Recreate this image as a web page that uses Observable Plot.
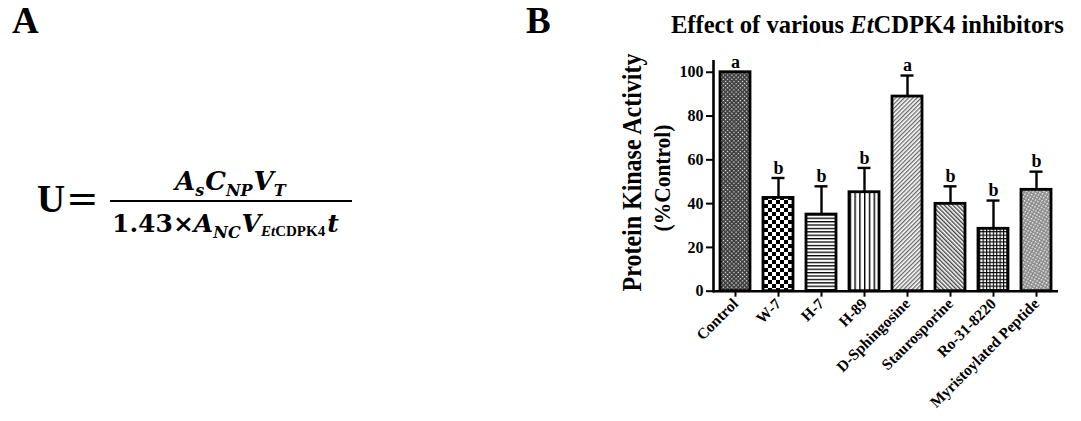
<!DOCTYPE html>
<html>
<head>
<meta charset="utf-8">
<script src="https://cdn.jsdelivr.net/npm/d3@7"></script>
<script src="https://cdn.jsdelivr.net/npm/@observablehq/plot@0.6"></script>
<style>
  html, body { margin: 0; padding: 0; background: #fff; }
  #wrap { position: relative; width: 1081px; height: 421px; overflow: hidden; }
  #wrap > svg { position: absolute; left: 0; top: 0; }
</style>
</head>
<body>
<div id="wrap"></div>
<script>
// ---- data ----
const categories = ["Control", "W-7", "H-7", "H-89", "D-Sphingosine", "Staurosporine", "Ro-31-8220", "Myristoylated Peptide"];
const activity = [100, 42.6, 35.0, 45.2, 88.9, 39.9, 28.5, 46.3];
const errorTop = [100, 51.7, 47.9, 56.3, 98.5, 47.9, 41.4, 54.6];
const letters = ["a", "b", "b", "b", "a", "b", "b", "b"];
const patterns = ["p0", "p1", "p2", "p3", "p4", "p5", "p6", "p7"];
const yTicks = [0, 20, 40, 60, 80, 100];

const data = categories.map((name, i) => ({
  name, value: activity[i], err: errorTop[i], letter: letters[i], pattern: `url(#${patterns[i]})`
}));

const FONT = '"Liberation Serif", "Times New Roman", serif';

const chart = Plot.plot({
  width: 1081,
  height: 421,
  marginLeft: 713,
  marginRight: 23,
  marginTop: 60.8,
  marginBottom: 130.3,
  style: { fontFamily: FONT, fontWeight: "bold", fontSize: "15px", background: "transparent", color: "black" },
  x: { domain: categories, paddingInner: 0.3, paddingOuter: 0.15, label: null },
  y: { domain: [0, 105], label: null },
  color: { type: "identity" },
  marks: [
    Plot.barY(data, { x: "name", y: "value", fill: "pattern", stroke: "black", strokeWidth: 2.8 }),
    Plot.ruleX(data, { x: "name", y1: "value", y2: "err", stroke: "black", strokeWidth: 2.4 }),
    Plot.tickY(data.filter(d => d.err > d.value), { x: "name", y: "err", stroke: "black", strokeWidth: 2.4, insetLeft: 8.5, insetRight: 8.5 }),
    Plot.text(data, { x: "name", y: "err", text: "letter", dy: -10, fontSize: 18, fontWeight: "bold", fill: "black" }),
    Plot.ruleY([0], { stroke: "black", strokeWidth: 2.6 }),
    Plot.frame({ anchor: "left", stroke: "black", strokeWidth: 2.6 }),
    Plot.axisY({ ticks: yTicks, tickSize: 7, tickPadding: 3, strokeWidth: 2 }),
    Plot.axisX({ tickRotate: -45, tickSize: 6, tickPadding: 4, strokeWidth: 2 })
  ]
});

// enforce tick label font sizes
d3.select(chart).selectAll('g[aria-label="y-axis tick label"]').attr("font-size", 16).attr("font-weight", "bold");
d3.select(chart).selectAll('g[aria-label="x-axis tick label"]').attr("font-size", 15.5).attr("font-weight", "bold");

// patterns
const defs = d3.select(chart).insert("defs", ":first-child");
function pat(id, w, h, build, transform) {
  const p = defs.append("pattern").attr("id", id).attr("patternUnits", "userSpaceOnUse")
    .attr("width", w).attr("height", h);
  if (transform) p.attr("patternTransform", transform);
  p.append("rect").attr("width", w).attr("height", h).attr("fill", "white");
  build(p);
}
// Control: fine dark checker
pat("p0", 3, 3, p => {
  p.append("rect").attr("width", 3).attr("height", 3).attr("fill", "#3a3a3a");
  p.append("rect").attr("x", 0).attr("y", 0).attr("width", 1.3).attr("height", 1.3).attr("fill", "#f0f0f0");
}, "rotate(45)");
// W-7: big checkerboard
pat("p1", 8, 8, p => {
  p.append("rect").attr("x", 0).attr("y", 0).attr("width", 4).attr("height", 4).attr("fill", "black");
  p.append("rect").attr("x", 4).attr("y", 4).attr("width", 4).attr("height", 4).attr("fill", "black");
});
// H-7: horizontal lines
pat("p2", 4, 3.4, p => {
  p.append("rect").attr("x", 0).attr("y", 0).attr("width", 4).attr("height", 1.3).attr("fill", "black");
});
// H-89: vertical lines
pat("p3", 4.8, 4, p => {
  p.append("rect").attr("x", 0).attr("y", 0).attr("width", 1.4).attr("height", 4).attr("fill", "black");
});
// D-Sphingosine: light diagonal "/"
pat("p4", 3, 3, p => {
  p.append("rect").attr("x", 0).attr("y", 0).attr("width", 1.3).attr("height", 3).attr("fill", "#666");
}, "rotate(45)");
// Staurosporine: diagonal "\"
pat("p5", 3, 3, p => {
  p.append("rect").attr("x", 0).attr("y", 0).attr("width", 1.4).attr("height", 3).attr("fill", "#444");
}, "rotate(-45)");
// Ro-31-8220: grid
pat("p6", 3.4, 3.4, p => {
  p.append("rect").attr("x", 0).attr("y", 0).attr("width", 3.4).attr("height", 1.1).attr("fill", "black");
  p.append("rect").attr("x", 0).attr("y", 0).attr("width", 1.1).attr("height", 3.4).attr("fill", "black");
});
// Myristoylated peptide: fine diagonal crosshatch grey
pat("p7", 3, 3, p => {
  p.append("rect").attr("width", 3).attr("height", 3).attr("fill", "#888");
  p.append("rect").attr("x", 0).attr("y", 0).attr("width", 1.5).attr("height", 1.5).attr("fill", "#f4f4f4");
}, "rotate(30)");

document.getElementById("wrap").appendChild(chart);

// overlay text (panel labels, title, y label, formula)
const overlay = d3.select("#wrap").append("svg")
  .attr("width", 1081).attr("height", 421)
  .style("pointer-events", "none")
  .style("font-family", FONT).style("font-weight", "bold");

overlay.append("text").attr("x", 12).attr("y", 33).attr("font-size", 37).text("A");
overlay.append("text").attr("x", 526).attr("y", 33).attr("font-size", 37).text("B");

// fit a text horizontally by scaling (keeps tspans from overlapping)
function fitX(sel, x, y, width, rotate) {
  const L = sel.node().getComputedTextLength();
  const s = width / L;
  if (rotate) sel.attr("transform", `translate(${x},${y}) rotate(-90) scale(${s},1)`);
  else sel.attr("transform", `translate(${x},${y}) scale(${s},1)`);
}

const title = overlay.append("text").attr("font-size", 25);
title.append("tspan").text("Effect of various ");
title.append("tspan").attr("font-style", "italic").text("Et");
title.append("tspan").text("CDPK4 inhibitors");
fitX(title, 671, 33, 393);

const yl1 = overlay.append("text").attr("text-anchor", "middle").attr("font-size", 27).text("Protein Kinase Activity");
fitX(yl1, 641, 172.5, 238, true);
const yl2 = overlay.append("text").attr("text-anchor", "middle").attr("font-size", 24).text("(%Control)");
fitX(yl2, 670, 178, 107, true);

// formula
const MF = '"DejaVu Serif", "Liberation Serif", serif';
overlay.append("text").attr("x", 37).attr("y", 212).attr("font-size", 39).text("U");
overlay.append("text").attr("x", 66).attr("y", 212).attr("font-size", 39).attr("font-family", MF).attr("font-weight", "normal").text("=");
overlay.append("line").attr("x1", 110).attr("x2", 352).attr("y1", 201).attr("y2", 201)
  .attr("stroke", "black").attr("stroke-width", 2.2);

const num = overlay.append("text").attr("x", 175).attr("y", 190).attr("font-size", 26).attr("font-style", "italic").attr("font-family", MF);
num.append("tspan").text("A");
num.append("tspan").attr("font-size", 16).attr("dy", 6).text("s");
num.append("tspan").attr("dy", -6).attr("dx", 1).text("C");
num.append("tspan").attr("font-size", 16).attr("dy", 6).text("NP");
num.append("tspan").attr("dy", -6).attr("dx", 1).text("V");
num.append("tspan").attr("font-size", 16).attr("dy", 6).text("T");

const den = overlay.append("text").attr("x", 112).attr("y", 232).attr("font-size", 25).attr("font-family", MF);
den.append("tspan").text("1.43×");
den.append("tspan").attr("font-style", "italic").text("A");
den.append("tspan").attr("font-style", "italic").attr("font-size", 16).attr("dy", 6).text("NC");
den.append("tspan").attr("font-style", "italic").attr("dy", -6).attr("dx", 1).text("V");
den.append("tspan").attr("font-style", "italic").attr("font-size", 15).attr("dy", 4).attr("font-family", FONT).text("Et");
den.append("tspan").attr("font-size", 15).attr("font-family", FONT).text("CDPK4");
den.append("tspan").attr("font-style", "italic").attr("dy", -4).attr("dx", 2).text("t");
</script>
</body>
</html>
